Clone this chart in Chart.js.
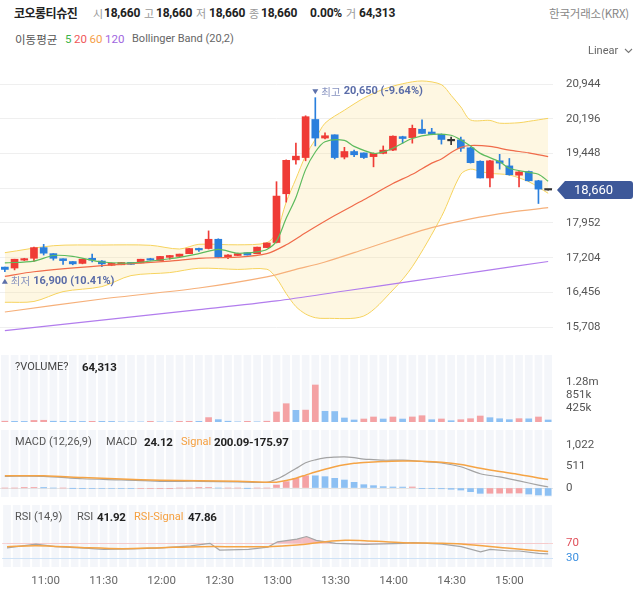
<!DOCTYPE html>
<html><head><meta charset="utf-8">
<script src="https://cdn.jsdelivr.net/npm/chart.js@4.4.1/dist/chart.umd.min.js"></script>
<style>
html,body{margin:0;padding:0;background:#fff;width:635px;height:592px;overflow:hidden;font-family:Roboto,"Noto Sans CJK KR",sans-serif;}
.t{position:absolute;white-space:nowrap;line-height:18px;font-size:11.5px;z-index:5;}
.lb{color:#999;font-family:"Noto Sans CJK KR",sans-serif;font-size:11px;}
.v{color:#222;font-weight:700;font-size:12px;letter-spacing:-0.2px;}
.k{font-family:"Noto Sans CJK KR",sans-serif;}
canvas{position:absolute;left:0;z-index:1;}
</style></head><body>
<div class="t k" style="left:14px;top:4px;font-size:12px;font-weight:700;color:#222;letter-spacing:-0.5px">코오롱티슈진</div>
<div class="t lb" style="left:93px;top:4px">시</div><div class="t v" style="left:104px;top:4px">18,660</div>
<div class="t lb" style="left:144px;top:4px">고</div><div class="t v" style="left:156px;top:4px">18,660</div>
<div class="t lb" style="left:196px;top:4px">저</div><div class="t v" style="left:209px;top:4px">18,660</div>
<div class="t lb" style="left:249px;top:4px">종</div><div class="t v" style="left:261px;top:4px">18,660</div>
<div class="t v" style="left:310px;top:4px">0.00%</div>
<div class="t lb" style="left:346px;top:4px">거</div><div class="t v" style="left:359px;top:4px">64,313</div>
<div class="t k" style="right:6px;top:4px;color:#888;font-size:11.5px;letter-spacing:-0.2px">한국거래소(KRX)</div>

<div class="t k" style="left:15px;top:29.5px;color:#555;font-size:11.5px">이동평균</div>
<div class="t" style="left:65px;top:29.5px;color:#3cb44b">5</div>
<div class="t" style="left:74px;top:29.5px;color:#f0585a">20</div>
<div class="t" style="left:89.5px;top:29.5px;color:#f5a04a">60</div>
<div class="t" style="left:105px;top:29.5px;color:#a066e0">120</div>
<div class="t" style="left:132px;top:29.5px;color:#666;font-size:11px">Bollinger Band (20,2)</div>
<div class="t" style="left:588px;top:42px;color:#666;font-size:11px">Linear <svg width="9" height="6" style="margin-left:3px;vertical-align:middle"><polyline points="1,1 4.5,4.5 8,1" fill="none" stroke="#777" stroke-width="1.1"/></svg></div>

<div class="t" style="left:15px;top:357.5px;color:#444;font-size:11px">?VOLUME?</div><div class="t v" style="left:82px;top:357.5px;font-size:11.5px">64,313</div>
<div class="t" style="left:15px;top:433px;color:#555;font-size:11px">MACD (12,26,9)</div>
<div class="t" style="left:106px;top:433px;color:#555;font-size:11px">MACD</div><div class="t v" style="left:144px;top:433px;font-size:11.5px">24.12</div>
<div class="t" style="left:181px;top:433px;color:#f5a040;font-size:11px">Signal</div><div class="t v" style="left:214px;top:433px;font-size:11.5px">200.09-175.97</div>
<div class="t" style="left:15px;top:508px;color:#555;font-size:11px">RSI (14,9)</div>
<div class="t" style="left:77px;top:508px;color:#555;font-size:11px">RSI</div><div class="t v" style="left:97px;top:508px;font-size:11.5px">41.92</div>
<div class="t" style="left:134px;top:508px;color:#f5a040;font-size:11px">RSI-Signal</div><div class="t v" style="left:188px;top:508px;font-size:11.5px">47.86</div>

<canvas id="cPrice" width="635" height="303" style="top:56px"></canvas>
<canvas id="cVol" width="635" height="95" style="top:341px"></canvas>
<canvas id="cMacd" width="635" height="95" style="top:416px"></canvas>
<canvas id="cRsi" width="635" height="101" style="top:491px"></canvas>

<script>
// ---------------- DATA ----------------
const times = ['10:40','10:45','10:50','10:55','11:00','11:05','11:10','11:15','11:20','11:25','11:30','11:35','11:40','11:45','11:50','11:55','12:00','12:05','12:10','12:15','12:20','12:25','12:30','12:35','12:40','12:45','12:50','12:55','13:00','13:05','13:10','13:15','13:20','13:25','13:30','13:35','13:40','13:45','13:50','13:55','14:00','14:05','14:10','14:15','14:20','14:25','14:30','14:35','14:40','14:45','14:50','14:55','15:00','15:05','15:10','15:15','15:20'];
const opens  = [17000,16980,17150,17190,17420,17290,17180,17120,17080,17190,17130,17040,17050,17100,17090,17180,17140,17210,17230,17290,17400,17400,17600,17220,17250,17310,17290,17420,17530,18580,19310,19360,20180,19780,19850,19370,19490,19460,19380,19450,19520,19810,19790,19970,19910,19860,19720,19740,19570,19280,18920,19290,19180,18980,19060,18860,18660];
const highs  = [17000,17170,17190,17430,17490,17290,17180,17120,17170,17280,17140,17090,17100,17100,17170,17190,17230,17250,17280,17400,17410,17780,17610,17270,17290,17310,17430,17520,18840,19310,19670,20260,20650,19890,19850,19580,19520,19460,19460,19610,19830,19820,20060,20170,19990,19870,19800,19800,19580,19290,19300,19430,19340,19060,19070,18870,18660];
const lows   = [16900,16940,17140,17120,17260,17150,17060,17050,17070,17110,17010,17030,17050,17060,17090,17150,17140,17170,17230,17290,17340,17390,17200,17180,17250,17260,17290,17420,17520,18400,19220,19290,19610,19760,19330,19330,19380,19340,19160,19440,19510,19670,19670,19880,19850,19650,19640,19490,19240,18920,18730,19110,18980,18730,18850,18370,18660];
const closes = [16950,17170,17180,17420,17300,17190,17140,17070,17170,17150,17070,17080,17100,17060,17170,17150,17230,17250,17280,17400,17370,17600,17210,17260,17290,17260,17430,17520,18530,19300,19390,20240,19780,19830,19360,19490,19420,19360,19450,19520,19820,19770,19990,19880,19860,19750,19720,19560,19250,18920,19290,19240,18990,19050,18860,18680,18660];
const volumes = [25000,20000,18000,50000,55000,25000,22000,20000,18000,22000,20000,18000,5000,4000,3000,20000,4000,3000,20000,22000,20000,140000,75000,25000,5000,22000,5000,25000,318000,581000,371000,378000,1175000,340000,333000,127000,64000,95000,159000,95000,159000,94000,160000,200000,73000,96000,41000,73000,105000,190000,137000,104000,74000,106000,101000,159000,64313];

// indicator lines: [candle index, value]
const ma5Pts   = [[0,17090],[3,17130],[5,17250],[7,17230],[10,17110],[13,17090],[17,17180],[20,17290],[22,17380],[24,17300],[26,17330],[27,17380],[28,17560],[29,18050],[30,18500],[31,19100],[32,19480],[33,19700],[35,19730],[36,19600],[38,19450],[39,19480],[40,19560],[42,19770],[44,19860],[46,19840],[47,19740],[48,19610],[49,19450],[51,19270],[52,19130],[54,19040],[55,19000],[56,18850]];
const ma20Pts  = [[0,16800],[3,16900],[10,17030],[17,17130],[20,17190],[24,17215],[27,17290],[29,17480],[31,17740],[34,18110],[37,18450],[40,18800],[42,19000],[44,19240],[45,19330],[46,19470],[47,19580],[48,19620],[50,19600],[52,19520],[54,19460],[56,19380]];
const ma60Pts  = [[0,16033],[10,16313],[20,16550],[27,16790],[30,16950],[33,17110],[37,17380],[41,17657],[44,17850],[48,18040],[52,18180],[56,18280]];
const ma120Pts = [[0,15632],[10,15858],[20,16083],[28,16272],[35,16485],[42,16697],[49,16908],[56,17121]];
const bbUpperPts = [[0,17311],[5,17461],[10,17476],[15,17470],[18,17390],[20,17491],[24,17480],[27,17526],[28,17750],[29,18400],[30,18900],[31,19400],[32,19750],[33,20100],[35,20380],[37,20640],[39,20830],[41,20950],[43,21010],[45,20930],[46,20700],[47,20450],[48,20170],[50,20160],[51,20100],[53,20110],[54,20140],[56,20205]];
const bbLowerPts = [[0,16242],[3,16260],[6,16472],[10,16580],[13,16817],[17,16882],[20,16975],[24,16950],[27,16954],[28,16760],[29,16430],[30,16150],[31,15990],[32,15910],[33,15895],[37,15947],[40,16507],[42,17009],[45,18086],[47,19000],[48,19110],[49,19060],[50,19020],[52,18984],[54,18840],[56,18590]];

const macdPts = [[0,278],[4,276],[8,220],[12,192],[16,160],[20,160],[24,145],[27,135],[28,210],[29,328],[30,464],[31,600],[32,670],[33,717],[34,735],[35,742],[36,722],[37,686],[38,677],[39,661],[41,662],[43,630],[45,595],[47,505],[49,340],[51,265],[53,170],[55,70],[56,24.12]];
const signalPts = [[0,293],[4,290],[8,250],[12,212],[16,185],[20,172],[24,158],[27,137],[28,139],[29,177],[30,234],[31,307],[32,380],[33,447],[34,505],[35,553],[36,587],[37,607],[38,621],[39,629],[41,640],[43,638],[45,615],[47,560],[49,470],[51,390],[53,320],[55,240],[56,200.09]];
const macdHist = [0,0,4,6,3,0,0,-6,-8,-10,-11,-12,-13,-14,-12,-11,-10,-9,0,0,2,6,0,0,0,-5,0,0,71,151,230,293,290,270,230,190,135,79,56,32,24,22,24,-8,-10,-18,-30,-48,-87,-127,-125,-123,-121,-119,-143,-166,-175.97];

const rsiPts = [[0,58],[3,68],[5,61],[8,57],[10,54],[13,55],[16,58],[19,63],[21,70],[22,52],[25,54],[27,60],[28,74],[30,81],[31,88],[32,78],[34,70],[37,67],[41,70],[42,72],[45,68],[47,61],[49,47],[50,54],[52,49.5],[53,49.5],[55,43],[56,41.92]];
const rsiSigPts = [[0,61],[3,63.7],[8,58.4],[12,55.7],[16,58.4],[20,61],[24,61],[27,61],[30,65.5],[33,74.4],[35,78],[37,77],[41,71.7],[45,70],[47,68],[52,56.6],[56,47.86]];

const priceTicks = [15708,16456,17204,17952,18700,19448,20196,20944];
const volTicks = [425500,851000,1276500];
const macdTicks = [0,511,1022];
const rsiTicks = [30,70];

// ---------------- helpers ----------------
function series(pts){ const a = times.map(()=>null); pts.forEach(([i,v])=>{a[i]=v;}); return a; }
const UP='#ef3b36', DN='#2a7fdd', FLAT='#333';
const UPL='#f4a2a4', DNL='#8dc0f3';
const candleColors = opens.map((o,i)=> closes[i]>o?UP:(closes[i]<o?DN:FLAT));
const volColors = volumes.map((v,i)=> i===0||v>=volumes[i-1]?UPL:DNL);
const histColors = macdHist.map((v,i)=> i===0||v>=macdHist[i-1]?UPL:DNL);
const fmt = v => v.toLocaleString('en-US');
const FONT = "Roboto,'Noto Sans CJK KR',sans-serif";
const KFONT = "'Noto Sans CJK KR',sans-serif";
Chart.defaults.font.family = FONT;

const PAD = 14, AXW = 82;
function xAxis(show){
  const x = {type:'category', offset:true, display:show, grid:{display:false, drawTicks:false}, border:{display:false}};
  if(show){
    x.ticks = {autoSkip:false, maxRotation:0, minRotation:0, padding:7, color:'#666', font:{size:11.5},
      callback:(v,i)=>{const t=times[i]; return (t.endsWith(':00')||t.endsWith(':30'))?t:'';}};
    x.afterFit = s => { s.height = 25; };
  }
  return x;
}
function yAxis(min,max,ticks,fmtFn,extra){
  return Object.assign({
    position:'right', min, max, border:{display:false},
    grid:{display:false, drawTicks:false},
    ticks:{padding:13, color:'#555', font:{size:11.5, lineHeight:0.01}, callback:v=>fmtFn(v)},
    afterBuildTicks: s => { s.ticks = ticks.map(v=>({value:v})); },
    afterFit: s => { s.width = AXW; }
  }, extra||{});
}
function baseOpts(scales, showX){
  return {responsive:false, animation:false, maintainAspectRatio:false,
    layout:{padding:{left:0,right:0,top:PAD,bottom:showX?0:PAD}},
    plugins:{legend:{display:false}, tooltip:{enabled:false}},
    scales};
}
const stripes = {id:'stripes', beforeDraw(chart){
  const {ctx, chartArea:a, scales:{x}} = chart;
  const w = x.getPixelForValue(1)-x.getPixelForValue(0);
  ctx.save(); ctx.fillStyle='#f4f6fa';
  for(let i=0;i<times.length;i++){ const p=x.getPixelForValue(i); ctx.fillRect(p-w/2+1, a.top, w-2, a.bottom-a.top); }
  ctx.restore();
}};
const lineDs = (data, color, order, extra) => Object.assign({type:'line', data, borderColor:color, borderWidth:1.2, pointRadius:0, spanGaps:true, tension:0.3, fill:false, order}, extra||{});

// ---------------- price chart ----------------
const priceDecor = {id:'priceDecor', afterDraw(chart){
  const {ctx, scales:{x,y}} = chart;
  const last = closes[closes.length-1];
  const hi = highs.indexOf(Math.max(...highs)), lo = lows.indexOf(Math.min(...lows));
  const mark = (idx, val, up, word) => {
    const px = x.getPixelForValue(idx);
    const py = up ? y.getPixelForValue(val)+9.5 : y.getPixelForValue(val)-6;
    ctx.save();
    ctx.fillStyle='#5d70aa';
    ctx.beginPath();
    if(up){ ctx.moveTo(px-3,py+2.5); ctx.lineTo(px+3,py+2.5); ctx.lineTo(px,py-2.5); }
    else { ctx.moveTo(px-3,py-2.5); ctx.lineTo(px+3,py-2.5); ctx.lineTo(px,py+2.5); }
    ctx.fill();
    ctx.textBaseline='middle'; ctx.textAlign='left';
    ctx.font = "10.5px "+KFONT; ctx.fillStyle='#8793c0';
    ctx.fillText(word, px+6, py);
    const w = ctx.measureText(word).width;
    const pct = ((last-val)/val*100).toFixed(2);
    ctx.font = "bold 11px "+FONT; ctx.fillStyle='#5a6ca8';
    ctx.fillText(fmt(val)+' ('+pct+'%)', px+9+w, py);
    ctx.restore();
  };
  mark(hi, highs[hi], false, '최고');
  mark(lo, lows[lo], true, '최저');
  // current price tag
  const ty = y.getPixelForValue(last);
  const x0 = chart.chartArea.right+4, x1 = x0+8, x2 = 633, h = 9, r = 3;
  ctx.save();
  ctx.fillStyle='#3d5899';
  ctx.beginPath();
  ctx.moveTo(x0,ty); ctx.lineTo(x1,ty-h); ctx.lineTo(x2-r,ty-h); ctx.quadraticCurveTo(x2,ty-h,x2,ty-h+r);
  ctx.lineTo(x2,ty+h-r); ctx.quadraticCurveTo(x2,ty+h,x2-r,ty+h); ctx.lineTo(x1,ty+h); ctx.closePath(); ctx.fill();
  ctx.fillStyle='#fff'; ctx.font="13px "+FONT; ctx.textBaseline='middle'; ctx.textAlign='left';
  ctx.fillText(fmt(last), x1+9, ty+0.5);
  ctx.restore();
}};

new Chart(document.getElementById('cPrice'), {
  type:'bar',
  data:{labels:times, datasets:[
    lineDs(series(bbUpperPts), '#f6d35e', 10, {borderWidth:1, fill:'+1', backgroundColor:'rgba(253,228,150,0.28)'}),
    lineDs(series(bbLowerPts), '#f6d35e', 9, {borderWidth:1}),
    lineDs(series(ma120Pts), '#b27ded', 8),
    lineDs(series(ma60Pts), '#f6b07a', 7),
    {type:'bar', data:lows.map((l,i)=>[l,highs[i]]), backgroundColor:candleColors, barThickness:1, grouped:false, borderWidth:0, order:5},
    {type:'bar', data:opens.map((o,i)=>[o,closes[i]]), backgroundColor:candleColors, barThickness:7, minBarLength:1.5, grouped:false, borderWidth:0, order:4},
    lineDs(series(ma20Pts), '#f06b4a', 2),
    lineDs(series(ma5Pts), '#5dbb5d', 1)
  ]},
  options: baseOpts({
    x: xAxis(false),
    y: yAxis(15322, 21246, priceTicks, fmt, {grid:{display:true, drawTicks:false, color:'#efefef'}})
  }, false),
  plugins:[priceDecor]
});

// ---------------- volume ----------------
new Chart(document.getElementById('cVol'), {
  type:'bar',
  data:{labels:times, datasets:[{data:volumes, backgroundColor:volColors, barThickness:6, borderWidth:0}]},
  options: baseOpts({
    x: xAxis(false),
    y: yAxis(0, 2127000, volTicks, v => v>=1e6 ? (v/1e6).toFixed(2)+'m' : Math.floor(v/1000)+'k')
  }, false),
  plugins:[stripes]
});

// ---------------- MACD ----------------
new Chart(document.getElementById('cMacd'), {
  type:'bar',
  data:{labels:times, datasets:[
    {type:'bar', data:macdHist, backgroundColor:histColors, barThickness:6, borderWidth:0, order:3},
    lineDs(series(macdPts), '#a3a3a3', 2),
    lineDs(series(signalPts), '#f5a445', 1, {borderWidth:1.5})
  ]},
  options: baseOpts({
    x: xAxis(false),
    y: yAxis(-214, 1380, macdTicks, fmt, {grid:{display:true, drawTicks:false, color:c=>c.tick&&c.tick.value===0?'#e4e4e4':'rgba(0,0,0,0)'}})
  }, false),
  plugins:[stripes]
});

// ---------------- RSI ----------------
new Chart(document.getElementById('cRsi'), {
  type:'line',
  data:{labels:times, datasets:[
    lineDs(series(rsiPts), '#a5a5a5', 2, {tension:0, fill:{target:{value:70}, above:'rgba(240,140,148,0.55)', below:'rgba(0,0,0,0)'}}),
    lineDs(series(rsiSigPts), '#f5a445', 1, {tension:0.3, borderWidth:1.5})
  ]},
  options: baseOpts({
    x: xAxis(true),
    y: yAxis(6.8, 172.1, rsiTicks, v=>String(v), {
      grid:{display:true, drawTicks:false, color:c=>c.tick&&c.tick.value===70?'#f7d3d3':'#cfe2f6'},
      ticks:{padding:13, font:{size:11.5, lineHeight:0.01}, color:c=>c.tick&&c.tick.value===70?'#e0505a':'#3b8fe0', callback:v=>String(v)}
    })
  }, true),
  plugins:[stripes]
});
</script>
</body></html>
